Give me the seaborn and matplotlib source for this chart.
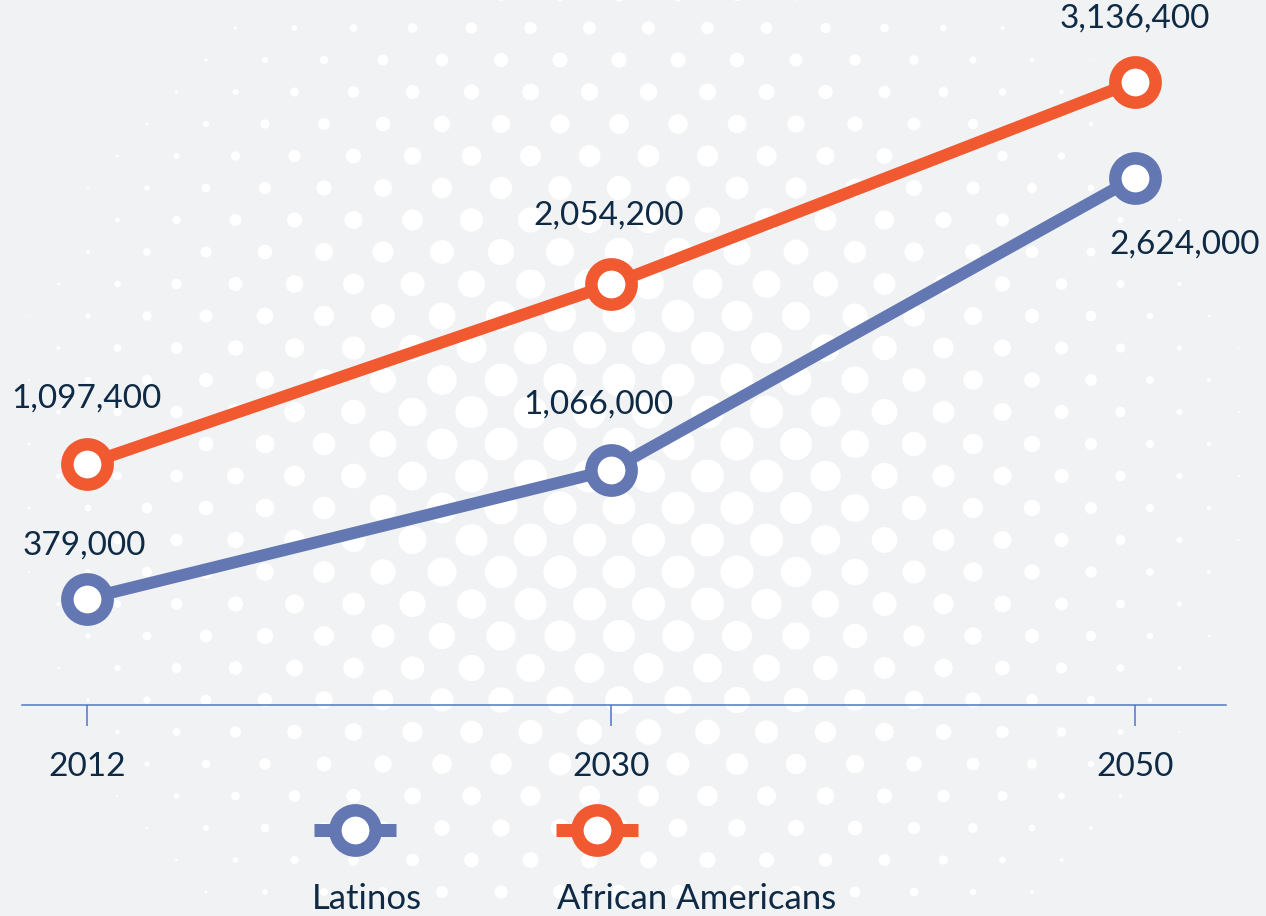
import numpy as np
import pandas as pd
import seaborn as sns
import matplotlib.pyplot as plt

# 1. Chart data
years = ["2012", "2030", "2050"]
groups = ["Latinos", "African Americans"]
latinos = [379000, 1066000, 2624000]
african_americans = [1097400, 2054200, 3136400]

df = pd.DataFrame({
    "year": years * 2,
    "group": [groups[0]] * 3 + [groups[1]] * 3,
    "value": latinos + african_americans,
})

# 2. Styling
colors = {"Latinos": "#6377b2", "African Americans": "#f15a31"}
text_color = "#0f2a44"
axis_color = "#4a74c6"
bg_color = "#f1f2f4"
PT = 0.72  # points per pixel at dpi 100

sns.set_theme(style="white")
plt.rcParams["font.family"] = ["Lato", "DejaVu Sans"]

W, H = 1266, 916
fig = plt.figure(figsize=(W / 100, H / 100), dpi=100, facecolor=bg_color)

# 3. Halftone dot background (decoration)
bg = fig.add_axes([0, 0, 1, 1], zorder=0)
bg.set_xlim(0, W)
bg.set_ylim(H, 0)
bg.axis("off")
gx, gy = [], []
for j, yy in enumerate(np.arange(-4, H + 32, 32)):
    shift = 29.5 if j % 2 else 0
    for xx in np.arange(-30 + shift, W + 60, 59):
        gx.append(xx)
        gy.append(yy)
gx, gy = np.array(gx), np.array(gy)
r = np.hypot((gx - 630) / 650, (gy - 470) / 640)
d = 33 * np.clip((0.99 - r) / 0.75, 0, 1)
keep = d > 1.5
bg.scatter(gx[keep], gy[keep], s=(d[keep] * PT) ** 2, color="white", linewidths=0)

# 4. Lines
ax = fig.add_axes([0, 0, 1, 1], zorder=1)
ax.patch.set_alpha(0)
for g in groups:
    sns.lineplot(
        data=df[df["group"] == g], x="year", y="value", ax=ax, sort=False,
        color=colors[g], linewidth=12 * PT,
        marker="o", markersize=29, markeredgewidth=9,
        markeredgecolor=colors[g], markerfacecolor="white",
    )

ax.set_xlim(-0.166, 2.25)
ax.set_ylim(-1313800, 3571500)
ax.set_xlabel("")
ax.set_ylabel("")
ax.set_yticks([])

for side in ["top", "left", "right"]:
    ax.spines[side].set_visible(False)
ax.spines["bottom"].set_position(("data", -188500))
ax.spines["bottom"].set_bounds(-0.124, 2.174)
ax.spines["bottom"].set_color(axis_color)
ax.spines["bottom"].set_linewidth(1.5 * PT)
ax.tick_params(axis="x", bottom=True, direction="out", length=21 * PT,
               width=1.5 * PT, color=axis_color, pad=19,
               labelsize=24, labelcolor=text_color)

# 5. Value labels (offsets in pixels from each marker)
offsets = {
    "Latinos": [(-3, -53), (-13, -65), (50, 67)],
    "African Americans": [(-1, -65), (-2, -69), (0, -63)],
}
for g, vals in zip(groups, [latinos, african_americans]):
    for i, v in enumerate(vals):
        dx, dy = offsets[g][i]
        ax.annotate(f"{v:,}", (i, v), xytext=(dx * PT, -dy * PT),
                    textcoords="offset points", ha="center", va="center",
                    fontsize=24, color=text_color)

# 6. Legend: handle above, label below
for g, cx, lx in [("Latinos", 355, 367), ("African Americans", 597, 697)]:
    bg.plot([cx - 41, cx, cx + 41], [830, 830, 830], color=colors[g],
            linewidth=13 * PT, solid_capstyle="butt",
            marker="o", markevery=[1], markersize=29,
            markeredgewidth=9, markeredgecolor=colors[g], markerfacecolor="white")
    bg.text(lx, 899, g, ha="center", va="center", fontsize=25, color=text_color)

fig.savefig("out.png", dpi=100, facecolor=bg_color)
